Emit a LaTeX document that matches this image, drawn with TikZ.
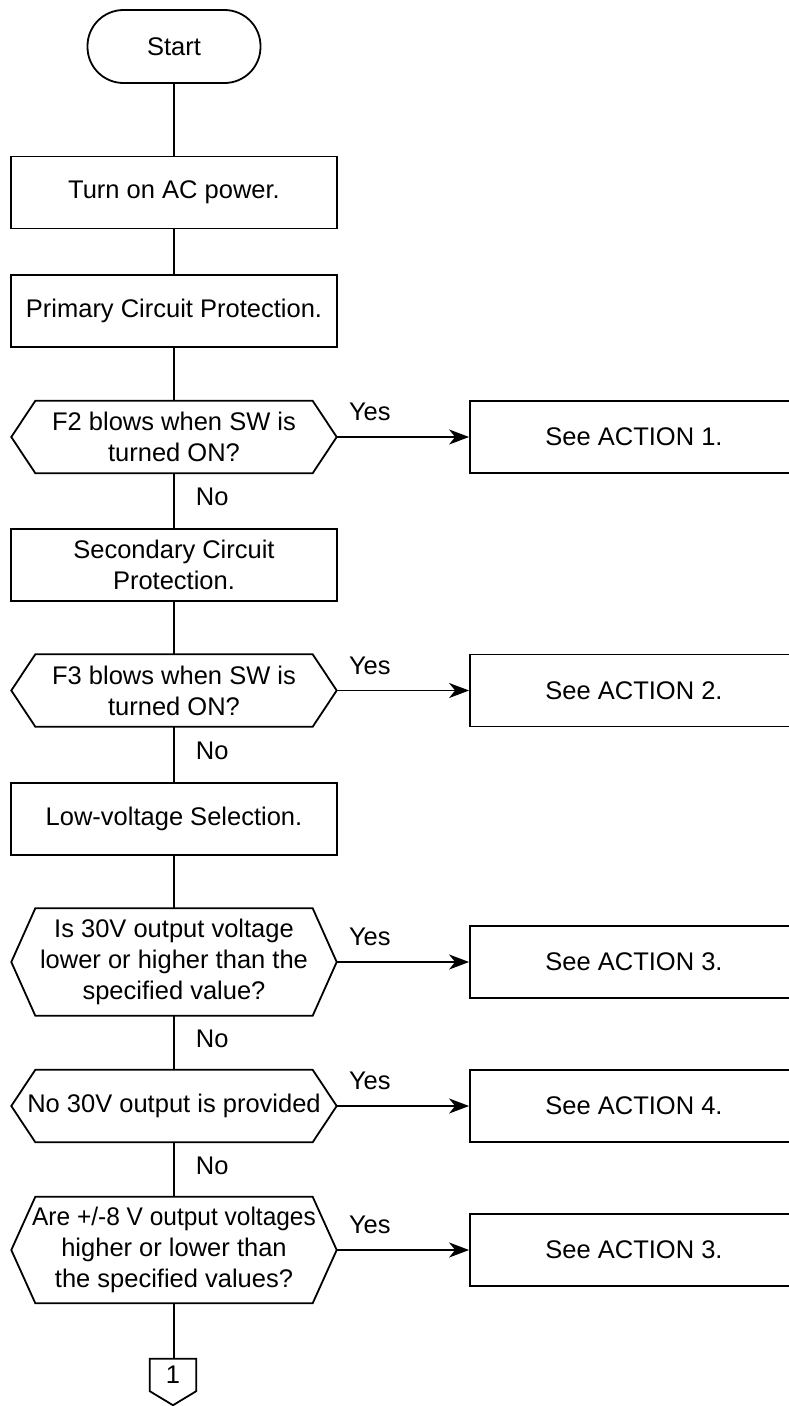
\documentclass[tikz,border=0pt]{standalone}
\usepackage{fontspec}
\setmainfont{Liberation Sans}
\usetikzlibrary{arrows.meta}

\tikzset{
  flowline/.style={line width=1.8pt},
  yesarrow/.style={line width=1.8pt, -{Stealth[length=20pt,width=15pt,inset=6pt]}},
  procbox/.style={draw, line width=1.8pt, minimum width=326pt, minimum height=72pt, inner sep=4pt, align=center},
  actbox/.style={draw, line width=1.8pt, minimum width=328pt, minimum height=72pt, inner sep=4pt, align=center},
  testbox/.style={minimum width=325pt, minimum height=72pt, inner sep=2pt, align=center},
  lbl/.style={inner sep=0pt},
}

% hexagon drawn round a test node
\newcommand{\testoutline}[1]{%
  \draw[flowline] ([xshift=24pt]#1.north west) -- ([xshift=-24pt]#1.north east) -- (#1.east)
    -- ([xshift=-24pt]#1.south east) -- ([xshift=24pt]#1.south west) -- (#1.west) -- cycle;}

\begin{document}
\begin{tikzpicture}[x=1pt,y=1pt,yscale=-1,xscale=1,font=\fontsize{25.5pt}{31pt}\selectfont]
  \useasboundingbox[fill=white] (0,0) rectangle (789,1406);
  \clip (0,0) rectangle (789,1406);

  %Shape: Terminal
  \node [draw, line width=1.8pt, rounded corners=36pt, minimum width=173pt, minimum height=73pt] (start) at (174,46.5) {Start};

  %Shape: Rectangle
  \node [procbox] (acpower) at (174,192.5) {Turn on AC power.};
  \node [procbox] (primary) at (174,311) {Primary Circuit Protection.};
  \node [procbox] (secondary) at (174,565) {Secondary Circuit\\Protection.};
  \node [procbox] (lowvolt) at (174,819) {Low-voltage Selection.};

  %Shape: Hexagon
  \node [testbox] (ftwo) at (174,437) {F2 blows when SW is\\turned ON?};
  \node [testbox] (fthree) at (174,690.5) {F3 blows when SW is\\turned ON?};
  \node [testbox, minimum height=107pt] (vthirty) at (174,962) {Is 30V output voltage\\lower or higher than the\\specified value?};
  \node [testbox] (nothirty) at (174,1106) {No 30V output is provided};
  \node [testbox, minimum height=106pt] (veight) at (174,1250) {\scalebox{0.96}[1]{Are +/-8 V output voltages}\\higher or lower than\\the specified values?};
  \testoutline{ftwo}
  \testoutline{fthree}
  \testoutline{vthirty}
  \testoutline{nothirty}
  \testoutline{veight}

  %Shape: Rectangle (actions)
  \node [actbox] (actone) at (634,437) {See ACTION 1.};
  \node [actbox] (acttwo) at (634,690.5) {See ACTION 2.};
  \node [actbox] (actthree) at (634,962) {See ACTION 3.};
  \node [actbox] (actfour) at (634,1106) {See ACTION 4.};
  \node [actbox] (actfive) at (634,1250) {See ACTION 3.};

  %Shape: Off-page connector
  \node [minimum width=46pt, minimum height=32pt, inner sep=0pt] (offone) at (173,1375) {1};
  \draw [flowline] (offone.north west) -- (offone.north east) -- (offone.south east)
    -- ([yshift=14pt]offone.south) -- (offone.south west) -- cycle;

  %Straight Lines
  \draw [flowline] (start) -- (acpower);
  \draw [flowline] (acpower) -- (primary);
  \draw [flowline] (primary) -- (ftwo.north);
  \draw [flowline] (ftwo.south) -- node [lbl, right=21pt, yshift=4pt] (noone) {No} (secondary.north);
  \draw [flowline] (secondary) -- (fthree.north);
  \draw [flowline] (fthree.south) -- node [lbl, right=21pt, yshift=4pt] (notwo) {No} (lowvolt.north);
  \draw [flowline] (lowvolt) -- (vthirty.north);
  \draw [flowline] (vthirty.south) -- node [lbl, right=21pt, yshift=4pt] (nothree) {No} (nothirty.north);
  \draw [flowline] (nothirty.south) -- node [lbl, right=21pt, yshift=4pt] (nofour) {No} (veight.north);
  \draw [flowline] (veight.south) -- (veight.south |- offone.north);

  %Arrows
  \draw [yesarrow] (ftwo.east) -- node [lbl, above=15pt, pos=0.25] (yesone) {Yes} (actone.west);
  \draw [yesarrow] (fthree.east) -- node [lbl, above=15pt, pos=0.25] (yestwo) {Yes} (acttwo.west);
  \draw [yesarrow] (vthirty.east) -- node [lbl, above=15pt, pos=0.25] (yesthree) {Yes} (actthree.west);
  \draw [yesarrow] (nothirty.east) -- node [lbl, above=15pt, pos=0.25] (yesfour) {Yes} (actfour.west);
  \draw [yesarrow] (veight.east) -- node [lbl, above=15pt, pos=0.25] (yesfive) {Yes} (actfive.west);
\end{tikzpicture}
\end{document}
